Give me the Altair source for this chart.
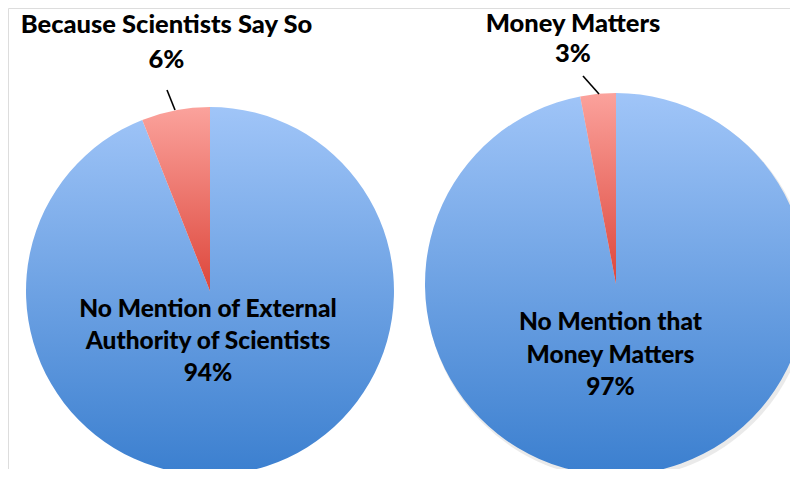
import math
import altair as alt
import pandas as pd

# ---- data ----
left_categories = ["No Mention of External Authority of Scientists", "Because Scientists Say So"]
left_values = [94, 6]
right_categories = ["No Mention that Money Matters", "Money Matters"]
right_values = [97, 3]

left_inside_lines = ["No Mention of External", "Authority of Scientists"]
right_inside_lines = ["No Mention that", "Money Matters"]


def slice_frame(cats, vals):
    starts = [sum(vals[:i]) for i in range(len(vals))]
    ends = [s + v for s, v in zip(starts, vals)]
    return pd.DataFrame({"cat": cats, "value": vals, "start": starts, "end": ends})


left_df = slice_frame(left_categories, left_values)
right_df = slice_frame(right_categories, right_values)

FONT = "Lato"
WEIGHT = 900
theta_scale = alt.Scale(domain=[0, 100], range=[0, 2 * math.pi])


def grad(c1, c2):
    return alt.Gradient(
        gradient="linear",
        stops=[alt.GradientStop(color=c1, offset=0), alt.GradientStop(color=c2, offset=1)],
        x1=0, x2=0, y1=0, y2=1,
    )


BLUE = grad("#A0C5F8", "#3B7FCF")
RED = grad("#FBA29C", "#DD463B")


def pie(df, cx, cy, r, shadow=False):
    layers = []
    if shadow:
        layers.append(
            alt.Chart(df.iloc[[0]]).mark_arc(radius=r + 1, fill="#888888", opacity=0.18)
            .encode(
                theta=alt.value(0), theta2=alt.value(2 * math.pi),
                x=alt.value(cx + 2), y=alt.value(cy + 3),
            )
        )
    for i, fill in ((0, BLUE), (1, RED)):
        layers.append(
            alt.Chart(df.iloc[[i]]).mark_arc(radius=r, fill=fill)
            .encode(
                theta=alt.Theta("start:Q", scale=theta_scale),
                theta2="end:Q",
                x=alt.value(cx), y=alt.value(cy),
            )
        )
    return layers


def text_layer(lines, x, y, size=24.5, line_height=32):
    d = pd.DataFrame({"t": [lines]})
    return alt.Chart(d).mark_text(
        font=FONT, fontSize=size, fontWeight=WEIGHT, color="#000000",
        align="center", baseline="alphabetic", lineHeight=line_height,
    ).encode(text="t", x=alt.value(x), y=alt.value(y))


def leader(x1, y1, x2, y2):
    d = pd.DataFrame({"a": [0]})
    return alt.Chart(d).mark_rule(color="#000000", strokeWidth=1.6).encode(
        x=alt.value(x1), y=alt.value(y1), x2=alt.value(x2), y2=alt.value(y2)
    )


layers = []
layers += pie(left_df, 202, 283, 184)
layers += pie(right_df, 608, 276, 191, shadow=True)

layers.append(text_layer(left_inside_lines + [f"{left_values[0]}%"], 200, 309))
layers.append(text_layer(right_inside_lines + [f"{right_values[0]}%"], 602.5, 322, line_height=32.5))
layers.append(text_layer([left_categories[1]], 158.5, 25, size=25.5))
layers.append(text_layer([f"{left_values[1]}%"], 158.5, 60, size=25.5))
layers.append(text_layer([right_categories[1]], 565, 23.5, size=25.5))
layers.append(text_layer([f"{right_values[1]}%"], 565, 54, size=25.5))
layers.append(leader(159, 82, 167, 102))
layers.append(leader(575, 68, 591, 86))

chart = (
    alt.layer(*layers)
    .properties(width=782, height=461, autosize=alt.AutoSizeParams(type="none"), padding=0)
    .configure_view(strokeWidth=0, stroke="transparent")
    .configure(background="#ffffff")
)

chart.save("out.html", embed_options={"renderer": "svg", "actions": False})
